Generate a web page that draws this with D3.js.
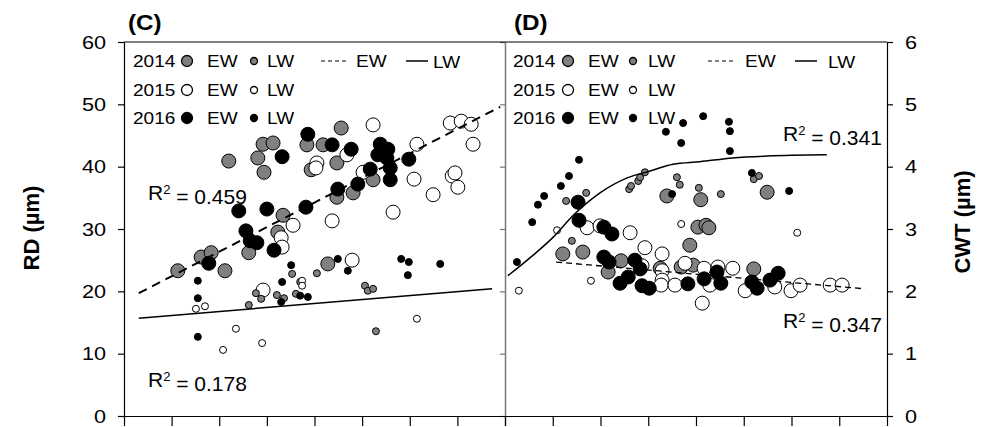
<!DOCTYPE html>
<html>
<head>
<meta charset="utf-8">
<script src="https://cdn.jsdelivr.net/npm/d3@7"></script>
<style>
  body { margin: 0; background: #fff; }
  svg { display: block; }
  text { font-family: "Liberation Sans", Arial, sans-serif; fill: #000; }
</style>
</head>
<body>
<div id="chart"></div>
<script>
// ---- data (x in axis units 0-8, y in µm) ----
var years = ["2014", "2015", "2016"];
var fills = ["#808080", "#ffffff", "#000000"];

// panel C : RD
var rdEW2014 = [[1.13,23.3],[1.62,25.5],[1.83,26.2],[2.12,23.3],[2.20,40.9],[2.81,41.4],[2.92,43.6],[3.13,43.8],
  [2.94,39.1],[3.34,32.2],[2.62,26.2],[3.23,29.5],[3.84,43.5],[4.18,43.5],[3.93,39.5],[4.47,40.6],[4.47,35.1],
  [4.81,35.8],[5.23,37.9],[4.56,46.2],[4.28,24.4]];
var rdEW2015 = [[3.55,30.6],[3.30,28.6],[3.32,27.1],[2.92,20.2],[4.05,40.6],[4.03,39.8],[4.68,41.9],[4.37,31.3],
  [5.02,39.1],[5.65,32.7],[6.09,38.0],[6.15,43.6],[6.49,35.5],[6.89,38.5],[6.95,39.0],[7.01,36.7],[7.33,43.6],
  [5.23,46.7],[6.85,47.0],[7.08,47.3],[7.29,46.8],[4.79,25.0]];
var rdEW2016 = [[1.78,24.5],[2.41,32.9],[3.00,33.2],[3.82,33.5],[2.56,29.7],[2.65,28.1],[2.79,27.8],[3.15,26.6],
  [3.32,41.6],[3.86,45.2],[4.37,43.5],[4.77,42.8],[4.49,36.4],[4.91,37.2],[5.17,39.6],[5.33,41.9],[5.38,43.6],
  [5.54,42.8],[5.52,41.4],[5.59,39.8],[5.59,37.9],[5.98,41.2]];
var rdLW2014 = [[2.62,17.8],[2.77,19.7],[2.88,18.8],[3.21,19.4],[3.36,18.9],[3.53,22.8],[3.70,21.5],[4.05,22.9],
  [5.06,20.9],[5.12,20.1],[5.23,20.4],[5.29,13.6],[3.61,19.6]];
var rdLW2015 = [[1.51,17.2],[1.70,17.6],[2.35,14.0],[2.08,10.6],[2.90,11.7],[3.74,21.7],[3.74,20.9],[6.15,15.6]];
var rdLW2016 = [[1.55,21.7],[1.55,18.9],[1.55,12.7],[3.51,24.2],[3.32,21.5],[3.30,18.3],[3.70,19.3],[3.86,19.1],
  [4.49,25.2],[4.70,23.3],[5.82,25.2],[5.98,24.7],[5.96,22.6],[6.64,24.4]];
var rdFitEW = [[0.31,19.7],[7.9,49.6]];
var rdFitLW = [[0.31,15.7],[7.73,20.4]];

// panel D : CWT
var cwtEW2014 = [[1.21,2.60],[1.63,2.63],[2.16,2.31],[2.43,2.49],[3.25,2.37],[3.69,2.39],[3.94,2.42],[3.87,2.74],
  [4.04,3.03],[4.21,3.06],[4.27,3.02],[5.21,2.36],[3.39,3.53],[4.10,3.47],[5.49,3.59]];
var cwtEW2015 = [[1.72,3.02],[2.62,2.94],[2.93,2.70],[3.29,2.60],[3.77,2.45],[3.29,2.33],[3.29,2.18],[3.27,2.10],
  [3.56,2.10],[4.17,2.37],[4.29,2.10],[4.46,2.39],[4.77,2.37],[5.03,2.01],[5.65,2.07],[5.99,2.01],[6.18,2.10],
  [6.81,2.10],[7.06,2.10],[4.13,1.81],[2.87,2.41],[1.99,3.05]];
var cwtEW2016 = [[1.53,3.43],[1.55,3.14],[2.07,3.03],[2.24,2.92],[2.07,2.55],[2.18,2.47],[2.72,2.50],[2.83,2.36],
  [2.58,2.23],[2.41,2.13],[2.87,2.09],[3.02,2.05],[3.83,2.12],[4.17,2.20],[4.44,2.31],[4.52,2.13],[5.17,2.15],
  [5.28,2.05],[5.55,2.18],[5.72,2.29]];
var cwtLW2014 = [[1.28,3.45],[1.70,3.58],[1.40,2.81],[2.60,3.64],[2.64,3.69],[2.79,3.77],[2.83,3.83],[2.93,3.91],
  [3.60,3.83],[3.66,3.71],[4.06,3.66],[4.52,3.56],[5.21,3.80],[5.32,3.85]];
var cwtLW2015 = [[0.29,2.01],[1.09,2.98],[1.80,2.17],[3.69,3.08],[6.12,2.94]];
var cwtLW2016 = [[0.25,2.47],[0.57,3.11],[0.69,3.39],[0.82,3.53],[1.17,3.69],[1.34,3.85],[1.55,4.11],[3.37,4.56],
  [3.73,4.70],[3.69,4.38],[4.15,4.81],[4.69,4.72],[4.71,4.57],[4.71,4.25],[5.17,3.90],[5.95,3.61],[3.50,3.56]];
var cwtFitEW = [[1.07,2.47],[7.54,2.04]];
var cwtFitLW = [[0.06,2.25],[0.59,2.58],[1.01,2.87],[1.43,3.22],[1.99,3.58],[2.56,3.82],[3.04,3.93],
  [3.52,4.04],[4.08,4.08],[4.77,4.14],[5.49,4.17],[6.74,4.19]];

var rdTicks = [0, 10, 20, 30, 40, 50, 60];
var cwtTicks = [0, 1, 2, 3, 4, 5, 6];
var xTicks = [0, 1, 2, 3, 4, 5, 6, 7, 8];

// ---- layout ----
var width = 1004, height = 427;
var plotTop = 42, plotBottom = 416;
var sx = 1.14; // horizontal stretch of the source text

var xL = d3.scaleLinear().domain([0, 8]).range([124, 505]);
var yL = d3.scaleLinear().domain([0, 60]).range([plotBottom, plotTop]);
var xR = d3.scaleLinear().domain([0, 8]).range([505, 887]);
var yR = d3.scaleLinear().domain([0, 6]).range([plotBottom, plotTop]);

var svg = d3.select('#chart').append('svg')
  .attr('width', width)
  .attr('height', height);

function txt(g, x, y, s, size, stretch) {
  return g.append('text')
    .attr('transform', 'translate(' + x + ',' + y + ') scale(' + stretch + ',1)')
    .style('font-size', size + 'px')
    .text(s);
}

function r2(g, x, y, val) {
  var t = g.append('text').attr('x', x).attr('y', y).style('font-size', '21px');
  t.append('tspan').text('R');
  t.append('tspan').attr('dy', '-0.45em').style('font-size', '13px').text('2');
  t.append('tspan').attr('dy', '0.45em').text(' = ' + val);
}

function dots(data, xs, ys, r, fill) {
  svg.append('g').selectAll('circle')
    .data(data)
    .enter().append('circle')
    .attr('cx', function(d) { return xs(d[0]); })
    .attr('cy', function(d) { return ys(d[1]); })
    .attr('r', r)
    .attr('fill', fill)
    .attr('stroke', '#000')
    .attr('stroke-width', 1);
}

function fit(data, xs, ys, dash, w, curve) {
  var line = d3.line()
    .x(function(d) { return xs(d[0]); })
    .y(function(d) { return ys(d[1]); })
    .curve(curve || d3.curveLinear);
  svg.append('path')
    .datum(data)
    .attr('d', line)
    .attr('fill', 'none')
    .attr('stroke', '#000')
    .attr('stroke-width', w)
    .attr('stroke-dasharray', dash);
}

// ---- axes ----
var gyL = svg.append('g').attr('transform', 'translate(' + xL(0) + ',0)')
  .call(d3.axisLeft(yL).tickValues(rdTicks).tickSize(6).tickSizeOuter(0).tickFormat(d3.format('d')));
gyL.selectAll('text').attr('x', -18 / sx).attr('transform', 'scale(' + sx + ',1)');

var gyR = svg.append('g').attr('transform', 'translate(' + xR(8) + ',0)')
  .call(d3.axisRight(yR).tickValues(cwtTicks).tickSize(6).tickSizeOuter(0).tickFormat(d3.format('d')));
gyR.selectAll('text').attr('x', 18 / sx).attr('transform', 'scale(' + sx + ',1)');

// inner edge between the panels
var gmid = svg.append('g').attr('transform', 'translate(' + xR(0) + ',0)')
  .call(d3.axisLeft(yR).tickValues(cwtTicks).tickSize(5).tickSizeOuter(0).tickFormat(''));
gmid.select('.domain').attr('stroke', '#777');
gmid.selectAll('.tick line').attr('stroke', '#777');

svg.append('g').attr('transform', 'translate(0,' + plotBottom + ')')
  .call(d3.axisBottom(xL).tickValues(xTicks).tickSize(10).tickSizeOuter(0).tickFormat(''));
svg.append('g').attr('transform', 'translate(0,' + plotBottom + ')')
  .call(d3.axisBottom(xR).tickValues(xTicks).tickSize(10).tickSizeOuter(0).tickFormat(''));

svg.selectAll('.domain, .tick line').attr('stroke-width', 1.2);
gmid.select('.domain').attr('stroke-width', 1.5);

// top frame
svg.append('line')
  .attr('x1', xL(0)).attr('x2', xR(8))
  .attr('y1', yL(60)).attr('y2', yR(6))
  .attr('stroke', '#000').attr('stroke-width', 1.2);

// ---- marks ----
var ewC = [rdEW2014, rdEW2015, rdEW2016];
var lwC = [rdLW2014, rdLW2015, rdLW2016];
var ewD = [cwtEW2014, cwtEW2015, cwtEW2016];
var lwD = [cwtLW2014, cwtLW2015, cwtLW2016];

ewC.forEach(function(d, i) { dots(d, xL, yL, 7, fills[i]); });
lwC.forEach(function(d, i) { dots(d, xL, yL, 3.5, fills[i]); });
ewD.forEach(function(d, i) { dots(d, xR, yR, 7, fills[i]); });
lwD.forEach(function(d, i) { dots(d, xR, yR, 3.5, fills[i]); });

fit(rdFitEW, xL, yL, '9,6', 2);
fit(rdFitLW, xL, yL, null, 1.5);
fit(cwtFitEW, xR, yR, '6,4', 1.3);
fit(cwtFitLW, xR, yR, null, 1.5, d3.curveMonotoneX);

// ---- legends ----
function legend(x0, pos) {
  var g = svg.append('g');
  var rows = [61, 90, 118];
  years.forEach(function(y, i) {
    txt(g, x0 + pos.year, rows[i] + 6, y, 17, 1.12);
    g.append('circle').attr('cx', x0 + pos.ew).attr('cy', rows[i]).attr('r', 5.5)
      .attr('fill', fills[i]).attr('stroke', '#000').attr('stroke-width', 1.3);
    txt(g, x0 + pos.ewT, rows[i] + 6, 'EW', 17, 1.12);
    g.append('circle').attr('cx', x0 + pos.lw).attr('cy', rows[i]).attr('r', 3.5)
      .attr('fill', fills[i]).attr('stroke', '#000').attr('stroke-width', 1.3);
    txt(g, x0 + pos.lwT, rows[i] + 6, 'LW', 17, 1.12);
  });
  g.append('line').attr('x1', x0 + pos.dash[0]).attr('x2', x0 + pos.dash[1])
    .attr('y1', rows[0]).attr('y2', rows[0])
    .attr('stroke', '#000').attr('stroke-width', 1.2).attr('stroke-dasharray', '4,3');
  txt(g, x0 + pos.dashT, rows[0] + 6, 'EW', 17, 1.12);
  g.append('line').attr('x1', x0 + pos.solid[0]).attr('x2', x0 + pos.solid[1])
    .attr('y1', rows[0]).attr('y2', rows[0])
    .attr('stroke', '#000').attr('stroke-width', 1.5);
  txt(g, x0 + pos.solidT, rows[0] + 7, 'LW', 17, 1.12);
}

legend(xL(0), {year: 9, ew: 63, ewT: 83, lw: 130, lwT: 143, dash: [197, 224], dashT: 232, solid: [282, 304], solidT: 309});
legend(xR(0), {year: 8, ew: 63, ewT: 83, lw: 128, lwT: 143, dash: [203, 230], dashT: 240, solid: [290, 312], solidT: 323});

// ---- annotations ----
r2(svg, 148, 200, '0.459');
r2(svg, 148, 387, '0.178');
r2(svg, 783, 141, '0.341');
r2(svg, 783, 328, '0.347');

txt(svg, 128, 30, '(C)', 22, 1.1).style('font-weight', 'bold');
txt(svg, 514, 30, '(D)', 22, 1.1).style('font-weight', 'bold');

svg.append('text')
  .attr('transform', 'translate(39,228) rotate(-90)')
  .attr('text-anchor', 'middle')
  .style('font-size', '22px').style('font-weight', 'bold')
  .text('RD (µm)');
svg.append('text')
  .attr('transform', 'translate(970,222) rotate(-90)')
  .attr('text-anchor', 'middle')
  .style('font-size', '22px').style('font-weight', 'bold')
  .text('CWT (µm)');

svg.selectAll('.tick text').style('font-size', '19px').style('font-family', '"Liberation Sans", Arial, sans-serif').attr('fill', '#000');
</script>
</body>
</html>
